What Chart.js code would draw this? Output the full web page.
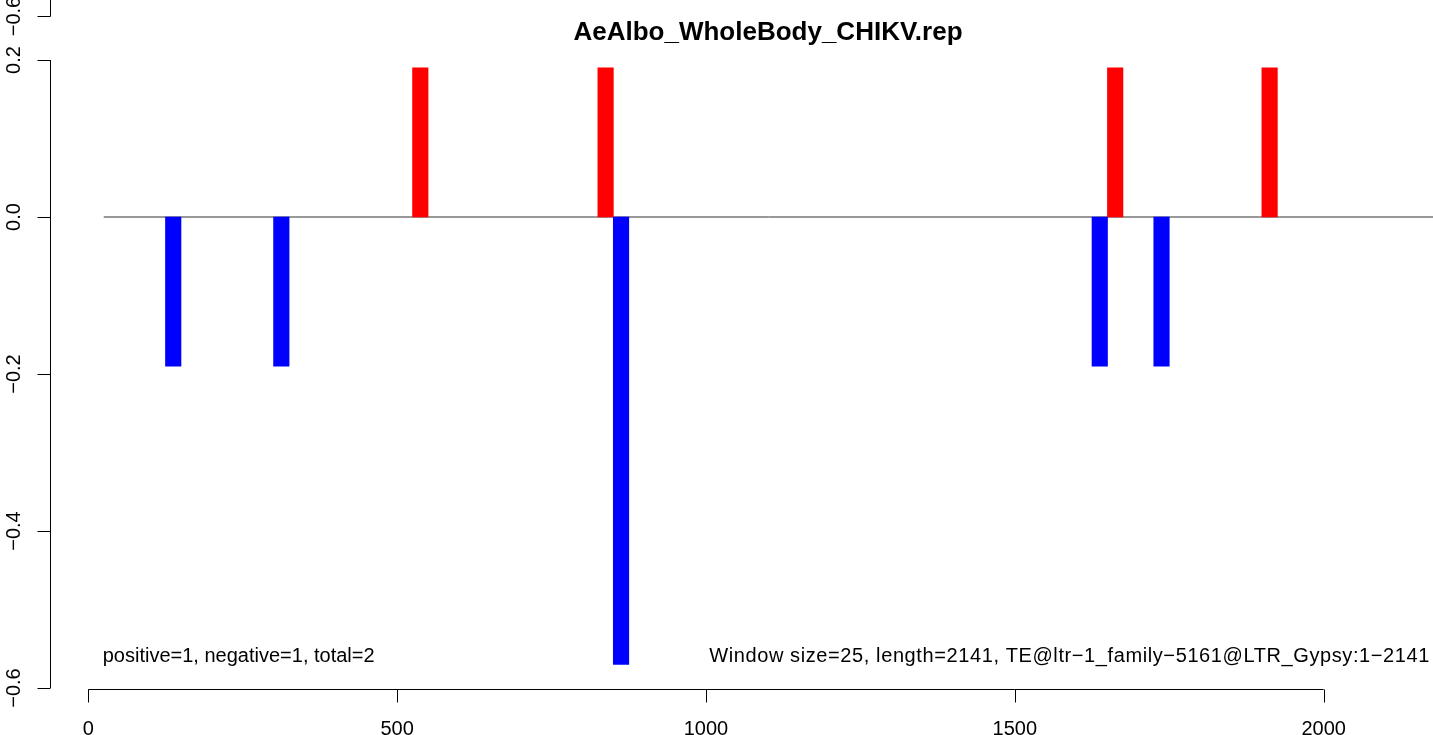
<!DOCTYPE html>
<html>
<head>
<meta charset="utf-8">
<title>AeAlbo_WholeBody_CHIKV.rep</title>
<script src="https://cdn.jsdelivr.net/npm/chart.js@4.4.1/dist/chart.umd.min.js"></script>
<style>
  html, body { margin: 0; padding: 0; background: #fff; }
  #wrap { width: 1433px; height: 735px; }
</style>
</head>
<body>
<div id="wrap"><canvas id="repChart" width="1433" height="735"></canvas></div>
<script>
// --- data ---
const windowSize = 25;
const positiveStarts = [525, 825, 1650, 1900];
const positiveValues = [0.19, 0.19, 0.19, 0.19];
const negativeStarts = [125, 300, 850, 1625, 1725];
const negativeValues = [-0.19, -0.19, -0.57, -0.19, -0.19];
const xTicks = [0, 500, 1000, 1500, 2000];
const yTicks = [-0.6, -0.4, -0.2, 0.0, 0.2];
const xLimits = [-62, 2177];
const yLimits = [-0.6, 0.2];
const titleText = 'AeAlbo_WholeBody_CHIKV.rep';
const leftNote = 'positive=1, negative=1, total=2';
const rightNote = 'Window size=25, length=2141, TE@ltr\u22121_family\u22125161@LTR_Gypsy:1\u22122141';
const noteLevel = -0.56;

const FONT = '"Liberation Sans", Arial, Helvetica, sans-serif';

// bars are centred on their window
const toBars = (starts, vals) => starts.map((s, i) => ({ x: s + windowSize / 2, y: vals[i] }));
const fmtY = v => (v < 0 ? '\u2212' : '') + Math.abs(v).toFixed(1);

// R-style axes: line only between first and last tick, labels parallel to axis
const rAxesPlugin = {
    id: 'rAxes',
    afterDraw(chart) {
        const { ctx, chartArea, scales } = chart;
        const xs = scales.x, ys = scales.y;
        const ax = Math.round(chartArea.left) + 0.5;
        const ay = Math.round(chartArea.bottom) + 1.5;
        const tick = 13;

        ctx.save();
        ctx.strokeStyle = '#000';
        ctx.fillStyle = '#000';
        ctx.lineWidth = 1;
        ctx.font = '20px ' + FONT;

        // x axis
        ctx.beginPath();
        ctx.moveTo(xs.getPixelForValue(xTicks[0]), ay);
        ctx.lineTo(xs.getPixelForValue(xTicks[xTicks.length - 1]), ay);
        xTicks.forEach(v => {
            const px = Math.round(xs.getPixelForValue(v)) + 0.5;
            ctx.moveTo(px, ay);
            ctx.lineTo(px, ay + tick);
        });
        ctx.stroke();
        ctx.textAlign = 'center';
        ctx.textBaseline = 'alphabetic';
        xTicks.forEach(v => ctx.fillText(String(v), xs.getPixelForValue(v), ay + 45));

        // y axis
        const yHi = Math.round(ys.getPixelForValue(yTicks[yTicks.length - 1]));
        ctx.beginPath();
        ctx.moveTo(ax, ys.getPixelForValue(yTicks[0]));
        ctx.lineTo(ax, yHi);
        yTicks.forEach(v => {
            const py = Math.round(ys.getPixelForValue(v)) + 0.5;
            ctx.moveTo(ax, py);
            ctx.lineTo(ax - tick, py);
        });
        // bottom of the panel above, left in view by the crop
        const stubY = yHi - 44 + 0.5;
        ctx.moveTo(ax, 0);
        ctx.lineTo(ax, stubY);
        ctx.lineTo(ax - tick, stubY);
        ctx.stroke();

        const yLabel = (txt, py) => {
            ctx.save();
            ctx.translate(ax - 30.5, py);
            ctx.rotate(-Math.PI / 2);
            ctx.textAlign = 'center';
            ctx.fillText(txt, 0, 0);
            ctx.restore();
        };
        yTicks.forEach(v => yLabel(fmtY(v), ys.getPixelForValue(v)));
        yLabel(fmtY(yLimits[0]), stubY);

        // notes inside the plot
        ctx.textBaseline = 'middle';
        ctx.textAlign = 'left';
        ctx.fillText(leftNote, xs.getPixelForValue(windowSize) - 1, ys.getPixelForValue(noteLevel));
        ctx.textAlign = 'right';
        ctx.letterSpacing = '0.6px';
        ctx.fillText(rightNote, chartArea.right - 3, ys.getPixelForValue(noteLevel));
        ctx.letterSpacing = '0px';

        // title
        ctx.font = 'bold 26px ' + FONT;
        ctx.textAlign = 'center';
        ctx.textBaseline = 'alphabetic';
        ctx.fillText(titleText, 768, 40);
        ctx.restore();
    }
};

const chart = new Chart(document.getElementById('repChart').getContext('2d'), {
    type: 'bar',
    data: {
        datasets: [
            {
                type: 'line',
                data: [{ x: windowSize, y: 0 }, { x: xLimits[1], y: 0 }],
                borderColor: '#333333',
                borderWidth: 1,
                pointRadius: 0,
                order: 3
            },
            {
                label: 'positive',
                data: toBars(positiveStarts, positiveValues),
                backgroundColor: '#ff0000',
                borderWidth: 0,
                barThickness: 15.5,
                grouped: false,
                order: 1
            },
            {
                label: 'negative',
                data: toBars(negativeStarts, negativeValues),
                backgroundColor: '#0000ff',
                borderWidth: 0,
                barThickness: 15.5,
                grouped: false,
                order: 1
            }
        ]
    },
    options: {
        responsive: false,
        animation: false,
        layout: { padding: { left: 50, right: 0, top: 60, bottom: 47 } },
        plugins: {
            legend: { display: false },
            title: { display: false },
            tooltip: { enabled: false }
        },
        scales: {
            x: { type: 'linear', min: xLimits[0], max: xLimits[1], offset: false, display: false },
            y: { type: 'linear', min: yLimits[0], max: yLimits[1], display: false }
        }
    },
    plugins: [rAxesPlugin]
});
</script>
</body>
</html>
